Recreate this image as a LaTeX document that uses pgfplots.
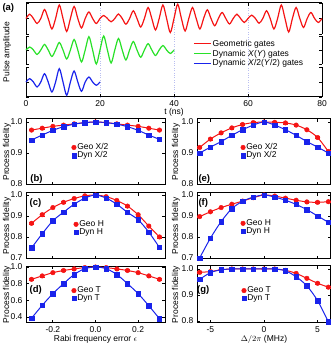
\documentclass[border=0pt]{standalone}
\usepackage{fontspec}
\setmainfont{Liberation Sans}
\usepackage{pgfplots}
\pgfplotsset{compat=1.18}
\usepackage{pgfplotstable}

\definecolor{gred}{RGB}{245,20,20}
\definecolor{dblue}{RGB}{25,35,235}
\definecolor{dgreen}{RGB}{40,225,40}
\definecolor{gridblue}{RGB}{185,190,240}

% fidelity vs Rabi error (b,c,d) and vs detuning (e,f,g)
\pgfplotstableread{
x     geo   dyn
-0.30 0.974 0.942
-0.25 0.980 0.958
-0.20 0.986 0.973
-0.15 0.990 0.985
-0.10 0.994 0.993
-0.05 0.998 0.998
0.00  1.000 1.000
0.05  0.998 0.998
0.10  0.994 0.993
0.15  0.990 0.985
0.20  0.986 0.973
0.25  0.980 0.958
0.30  0.974 0.944
}\tabB
\pgfplotstableread{
x     geo   dyn
-0.30 0.865 0.748
-0.25 0.906 0.815
-0.20 0.940 0.877
-0.15 0.965 0.918
-0.10 0.983 0.956
-0.05 0.996 0.985
0.00  1.000 1.000
0.05  0.992 0.985
0.10  0.974 0.956
0.15  0.947 0.917
0.20  0.906 0.882
0.25  0.852 0.823
0.30  0.800 0.750
}\tabC
\pgfplotstableread{
x     geo   dyn
-0.30 0.852 0.385
-0.25 0.893 0.540
-0.20 0.932 0.680
-0.15 0.958 0.800
-0.10 0.977 0.910
-0.05 0.993 0.980
0.00  1.000 1.000
0.05  0.993 0.980
0.10  0.977 0.910
0.15  0.958 0.800
0.20  0.932 0.680
0.25  0.893 0.535
0.30  0.852 0.380
}\tabD
\pgfplotstableread{
x  geo   dyn
-6 0.918 0.900
-5 0.945 0.919
-4 0.965 0.937
-3 0.981 0.957
-2 0.992 0.975
-1 0.998 0.990
0  1.000 1.000
1  0.999 0.990
2  0.997 0.975
3  0.990 0.957
4  0.975 0.937
5  0.950 0.919
6  0.905 0.900
}\tabE
\pgfplotstableread{
x  geo   dyn
-6 0.897 0.700
-5 0.920 0.794
-4 0.940 0.873
-3 0.956 0.935
-2 0.971 0.970
-1 0.987 0.990
0  1.000 1.000
1  0.995 0.990
2  0.985 0.975
3  0.975 0.955
4  0.967 0.930
5  0.965 0.900
6  0.968 0.870
}\tabF
\pgfplotstableread{
x  geo   dyn
-6 0.987 0.960
-5 0.990 0.986
-4 0.997 0.997
-3 1.000 1.000
-2 1.000 1.000
-1 1.000 1.000
0  1.000 1.000
1  1.000 1.000
2  0.995 0.993
3  0.983 0.970
4  0.964 0.935
5  0.945 0.878
6  0.930 0.797
}\tabG

\tikzset{plabel/.style={font=\bfseries\fontsize{9.5}{10}\selectfont, inner sep=0pt}}
\pgfplotsset{
  frame/.style={
    scale only axis, clip=false,
    axis line style={line width=1pt},
    tick align=inside, major tick length=3pt,
    every tick/.append style={black, line width=0.8pt},
    tick label style={font=\fontsize{8.5}{10}\selectfont},
    label style={font=\fontsize{8.5}{10}\selectfont},
    /pgf/number format/assume math mode=true,
  },
  panel/.style={
    frame,
    yticklabel style={/pgf/number format/.cd, fixed, fixed zerofill, precision=1},
    ylabel={Process fidelity},
    xlabel style={yshift=4pt},
    legend style={draw=none, fill=none, font=\fontsize{8.5}{9}\selectfont,
      inner sep=0pt, row sep=-1.5pt, nodes={inner sep=1pt}, anchor=north west},
    legend cell align=left,
  },
  leftcol/.style={panel, width=139pt, xmin=-0.326, xmax=0.326, xtick={-0.2,0,0.2},
    xticklabel style={/pgf/number format/.cd, fixed, fixed zerofill, precision=1},
    ylabel style={at={(axis description cs:-0.137,0.5)}, anchor=center}},
  rightcol/.style={panel, width=134pt, xmin=-6.25, xmax=6.25, xtick={-5,0,5},
    ylabel style={at={(axis description cs:-0.157,0.5)}, anchor=center}},
  geoline/.style={gred, line width=1pt, smooth, forget plot},
  dynline/.style={dblue, line width=1pt, smooth, forget plot},
  geomark/.style={only marks, mark=*, mark size=2.3pt, gred,
    error bars/y dir=both, error bars/y fixed=#1},
  dynmark/.style={only marks, mark=square*, mark size=2.2pt, dblue,
    error bars/y dir=both, error bars/y fixed=#1},
  wave/.style={frame, width=296pt, xmin=0, xmax=80, hide x axis,
    yticklabels={}},
}

\begin{document}
\begin{tikzpicture}
\useasboundingbox (0pt,0pt) rectangle (335pt,344pt);

% ---- panel (a): frame with time axis and legend
\begin{axis}[frame, at={(26pt,247pt)}, anchor=south west, width=296pt, height=94pt,
  xmin=0, xmax=80, ymin=0, ymax=1,
  separate axis lines, y axis line style={draw=none},
  ytick=\empty, xtick={0,20,...,80},
  extra x ticks={20,40,60}, extra x tick labels={},
  extra x tick style={grid=major, major grid style={gridblue, dotted, line width=0.5pt}},
  xlabel={t (ns)}, xlabel style={yshift=5pt},
  ylabel={Pulse amplitude}, ylabel style={at={(axis description cs:-0.064,0.48)}, anchor=center},
  legend style={draw=none, fill=none, font=\fontsize{8.5}{9}\selectfont,
    at={(0.564,0.62)}, anchor=north west, inner sep=0pt, row sep=0.3pt, nodes={inner sep=1pt}},
  legend cell align=left,
  legend image code/.code={\draw[#1, line width=1.5pt] (0pt,0pt) -- (17pt,0pt);},
]
\addlegendimage{gred}
\addlegendentry{Geometric gates}
\addlegendimage{dgreen}
\addlegendentry{Dynamic \textit{X}(\textit{Y}) gates}
\addlegendimage{dblue}
\addlegendentry{Dynamic \textit{X}/2(\textit{Y}/2) gates}
\node[plabel, anchor=north west] at (rel axis cs:-0.08,1.0) {(a)};
\end{axis}

% red: geometric gates
\begin{axis}[wave, at={(26pt,310pt)}, anchor=south west, height=31pt,
  ymin=-15.5, ymax=15.5, ytick={-15.5,0,15.5}]
\addplot[gred, line width=1.2pt, smooth] coordinates {
(0,0) (1,4.3) (2,0) (3,-5) (4,0) (5,9) (6,0) (7,-10.5) (8,0) (9,13.5) (10,0)
(11,-13) (12,0) (13,12) (14,0) (15,-9.5) (16,0) (17,6.5) (18,0) (19,-5) (20,0)
(21,3) (22,0) (23,-3.3) (24,0) (25,4.5) (26,0) (27,-5.7) (28,0) (29,7.7) (30,0)
(31,-8.5) (32,0) (33,11) (34,0) (35,-11.5) (36,0) (37,13.5) (38,0) (39,-14) (40,0)
(41,14.3) (42,0) (43,-12.5) (44,0) (45,11) (46,0) (47,-10.5) (48,0) (49,8.7) (50,0)
(51,-7.3) (52,0) (53,6) (54,0) (55,-5.5) (56,0) (57,4.3) (58,0) (59,-4) (60,0)
(61,3.3) (62,0) (63,-4.7) (64,0) (65,7.7) (66,0) (67,-10.5) (68,0) (69,13.5) (70,0)
(71,-13.5) (72,0) (73,11) (74,0) (75,-9) (76,0) (77,6) (78,0) (79,-4) (80,0)};
\end{axis}

% green: dynamic X(Y)
\begin{axis}[wave, at={(26pt,280pt)}, anchor=south west, height=28pt,
  ymin=-14, ymax=14, ytick={-14,0,14}]
\addplot[dgreen, line width=1.2pt, smooth] coordinates {
(0,0) (1,3) (2,0) (3,-4.5) (4,0) (5,5.5) (6,0) (7,-6.5) (8,0) (9,7.5) (10,0)
(11,-9) (12,0) (13,10.5) (14,0) (15,-12) (16,0) (17,13.3) (18,0) (19,-14) (20,0)
(21,14) (22,0) (23,-13) (24,0) (25,11.5) (26,0) (27,-10) (28,0) (29,8.5) (30,0)
(31,-7.3) (32,0) (33,6.3) (34,0) (35,-5.5) (36,0) (37,4.5) (38,0) (39,-3.5) (40,0)};
\end{axis}

% blue: dynamic X/2(Y/2)
\begin{axis}[wave, at={(26pt,247pt)}, anchor=south west, height=30pt,
  ymin=-15, ymax=15, ytick={-15,0,15}]
\addplot[dblue, line width=1.2pt, smooth] coordinates {
(0,0) (1,3.3) (2,0) (3,-5) (4,0) (5,8.3) (6,0) (7,-10) (8,0) (9,13.3) (10,0)
(11,-13.3) (12,0) (13,11) (14,0) (15,-9.3) (16,0) (17,5) (18,0) (19,-3.3) (20,0)};
\end{axis}

% ---- (b)
\begin{axis}[leftcol, at={(26pt,159pt)}, anchor=south west, height=66pt,
  ymin=0.797, ymax=1.0097, ytick={0.8,0.9,1.0}, xticklabels={},
  legend style={at={(0.327,0.645)}}]
\addplot[geoline] table[x=x,y=geo]{\tabB};
\addplot[dynline] table[x=x,y=dyn]{\tabB};
\addplot[geomark=0.002] table[x=x,y=geo]{\tabB};
\addlegendentry{Geo X/2}
\addplot[dynmark=0.002] table[x=x,y=dyn]{\tabB};
\addlegendentry{Dyn X/2}
\node[plabel, anchor=south west] at (rel axis cs:0.03,0.02) {(b)};
\end{axis}

% ---- (c)
\begin{axis}[leftcol, at={(26pt,85pt)}, anchor=south west, height=66pt,
  ymin=0.695, ymax=1.0095, ytick={0.7,0.8,0.9,1.0}, xticklabels={},
  legend style={at={(0.342,0.6)}}]
\addplot[geoline] table[x=x,y=geo]{\tabC};
\addplot[dynline] table[x=x,y=dyn]{\tabC};
\addplot[geomark=0.005] table[x=x,y=geo]{\tabC};
\addlegendentry{Geo H}
\addplot[dynmark=0.005] table[x=x,y=dyn]{\tabC};
\addlegendentry{Dyn H}
\node[plabel, anchor=north west] at (rel axis cs:0.025,0.92) {(c)};
\end{axis}

% ---- (d)
\begin{axis}[leftcol, at={(26pt,21pt)}, anchor=south west, height=57pt,
  ymin=0.328, ymax=1.012, ytick={0.4,0.6,0.8,1.0},
  xlabel={Rabi frequency error $\epsilon$},
  legend style={at={(0.327,0.655)}}]
\addplot[geoline] table[x=x,y=geo]{\tabD};
\addplot[dynline] table[x=x,y=dyn]{\tabD};
\addplot[geomark=0.01] table[x=x,y=geo]{\tabD};
\addlegendentry{Geo T}
\addplot[dynmark=0.01] table[x=x,y=dyn]{\tabD};
\addlegendentry{Dyn T}
\node[plabel, anchor=west] at (rel axis cs:0.025,0.57) {(d)};
\end{axis}

% ---- (e)
\begin{axis}[rightcol, at={(197pt,159pt)}, anchor=south west, height=66pt,
  ymin=0.797, ymax=1.0097, ytick={0.8,0.9,1.0}, xticklabels={},
  legend style={at={(0.325,0.645)}}]
\addplot[geoline] table[x=x,y=geo]{\tabE};
\addplot[dynline] table[x=x,y=dyn]{\tabE};
\addplot[geomark=0.003] table[x=x,y=geo]{\tabE};
\addlegendentry{Geo X/2}
\addplot[dynmark=0.003] table[x=x,y=dyn]{\tabE};
\addlegendentry{Dyn X/2}
\node[plabel, anchor=south west] at (rel axis cs:0.01,0.02) {(e)};
\end{axis}

% ---- (f)
\begin{axis}[rightcol, at={(197pt,85pt)}, anchor=south west, height=66pt,
  ymin=0.695, ymax=1.0095, ytick={0.7,0.8,0.9,1.0}, xticklabels={},
  legend style={at={(0.325,0.615)}}]
\addplot[geoline] table[x=x,y=geo]{\tabF};
\addplot[dynline] table[x=x,y=dyn]{\tabF};
\addplot[geomark=0.004] table[x=x,y=geo]{\tabF};
\addlegendentry{Geo H}
\addplot[dynmark=0.004] table[x=x,y=dyn]{\tabF};
\addlegendentry{Dyn H}
\node[plabel, anchor=north west] at (rel axis cs:0.01,0.92) {(f)};
\end{axis}

% ---- (g)
\begin{axis}[rightcol, at={(197pt,21pt)}, anchor=south west, height=57pt,
  ymin=0.792, ymax=1.0115, ytick={0.8,0.9,1.0},
  xlabel={$\Delta/2\pi$ (MHz)},
  legend style={at={(0.332,0.655)}}]
\addplot[geoline] table[x=x,y=geo]{\tabG};
\addplot[dynline] table[x=x,y=dyn]{\tabG};
\addplot[geomark=0.003] table[x=x,y=geo]{\tabG};
\addlegendentry{Geo T}
\addplot[dynmark=0.003] table[x=x,y=dyn]{\tabG};
\addlegendentry{Dyn T}
\node[plabel, anchor=west] at (rel axis cs:0.0,0.57) {(g)};
\end{axis}
\end{tikzpicture}
\end{document}
